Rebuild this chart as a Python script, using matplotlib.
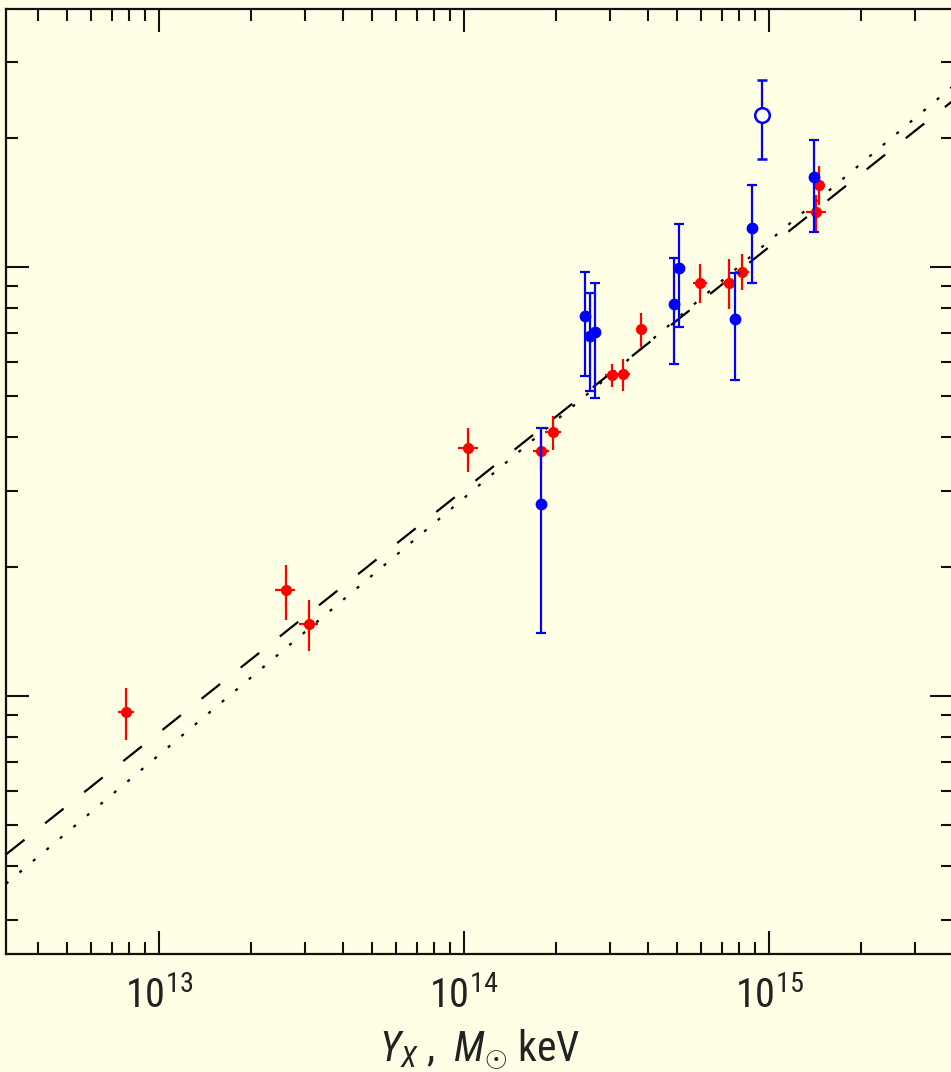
import numpy as np
import matplotlib
matplotlib.use("Agg")
import matplotlib.pyplot as plt
from matplotlib import font_manager
from matplotlib.ticker import LogLocator, NullFormatter, LogFormatterMathtext

names = {f.name for f in font_manager.fontManager.ttflist}
fam = 'Liberation Sans'
for cand in ['Liberation Sans Narrow', 'DejaVu Sans Condensed', 'Roboto Condensed',
             'Open Sans Condensed', 'Noto Sans Condensed']:
    if cand in names:
        fam = cand
        break

plt.rcParams['font.family'] = [fam, 'DejaVu Sans']
plt.rcParams['mathtext.fontset'] = 'custom'
plt.rcParams['mathtext.rm'] = fam
plt.rcParams['mathtext.it'] = fam + ':italic'
plt.rcParams['mathtext.bf'] = fam + ':bold'
plt.rcParams['lines.scale_dashes'] = False

# ---- data (Y_X in Msun keV, M arbitrary mass units) ----
red_x = [7.80e12, 2.60e13, 3.10e13, 1.03e14, 1.79e14, 1.96e14, 3.06e14, 3.33e14,
         3.81e14, 5.94e14, 7.39e14, 8.16e14, 1.43e15, 1.46e15]
red_y = [9.14e13, 1.76e14, 1.47e14, 3.79e14, 3.73e14, 4.13e14, 5.60e14, 5.63e14,
         7.17e14, 9.18e14, 9.18e14, 9.73e14, 1.34e15, 1.55e15]
red_ylo = [7.90e13, 1.50e14, 1.27e14, 3.33e14, 3.36e14, 3.75e14, 5.25e14, 5.14e14,
           6.51e14, 8.25e14, 7.98e14, 8.84e14, 1.20e15, 1.39e15]
red_yhi = [1.04e14, 2.02e14, 1.67e14, 4.21e14, 4.17e14, 4.50e14, 5.94e14, 6.10e14,
           7.81e14, 1.016e15, 1.044e15, 1.072e15, 1.47e15, 1.72e15]
red_xrel = [0.06, 0.075, 0.075, 0.075, 0.06, 0.06, 0.05, 0.05,
            0.0, 0.05, 0.05, 0.05, 0.075, 0.0]

blue_x = [1.79e14, 2.49e14, 2.59e14, 2.69e14, 4.88e14, 5.07e14, 7.74e14, 8.80e14, 1.40e15]
blue_y = [2.80e14, 7.69e14, 6.91e14, 7.06e14, 8.20e14, 9.95e14, 7.57e14, 1.233e15, 1.62e15]
blue_ylo = [1.40e14, 5.57e14, 5.14e14, 4.95e14, 5.94e14, 7.25e14, 5.45e14, 9.18e14, 1.206e15]
blue_yhi = [4.21e14, 9.73e14, 8.70e14, 9.18e14, 1.049e15, 1.26e15, 9.68e14, 1.553e15, 1.977e15]

open_x = [9.49e14]
open_y = [2.26e15]
open_ylo = [1.785e15]
open_yhi = [2.73e15]

# power-law fits: log M = norm + slope * log Y_X
fit_dash = (6.556, 0.566)
fit_dot = (6.075, 0.599)

xlim = (3.15e12, 4.01e15)
ylim = (2.50e13, 3.99e15)
bg = '#ffffe5'

fig = plt.figure(figsize=(9.51, 10.72), dpi=100, facecolor=bg)
ax = fig.add_axes([6/951, 118/1072, 947/951, 945/1072], facecolor=bg)
ax.set_xscale('log')
ax.set_yscale('log')

xx = np.logspace(np.log10(xlim[0]), np.log10(xlim[1]), 200)
ld, = ax.plot(xx, 10**(fit_dash[0] + fit_dash[1]*np.log10(xx)), color='k', lw=1.6)
ld.set_dashes([17, 19])
lt, = ax.plot(xx, 10**(fit_dot[0] + fit_dot[1]*np.log10(xx)), color='k', lw=1.6)
lt.set_dashes([2.2, 10.5])

ry = np.array(red_y); rx = np.array(red_x)
ax.errorbar(rx, ry, yerr=[ry - np.array(red_ylo), np.array(red_yhi) - ry],
            xerr=rx*np.array(red_xrel), fmt='o', color='#ff0000', ms=7,
            elinewidth=1.6, capsize=0, zorder=4)
by = np.array(blue_y)
ax.errorbar(blue_x, by, yerr=[by - np.array(blue_ylo), np.array(blue_yhi) - by],
            fmt='o', color='#0000ff', ms=7.5, elinewidth=1.6, capsize=3.5,
            capthick=1.6, zorder=5)
oy = np.array(open_y)
ax.errorbar(open_x, oy, yerr=[oy - np.array(open_ylo), np.array(open_yhi) - oy],
            fmt='o', color='#0000ff', mfc='white', mec='#0000ff', mew=1.8, ms=10.5,
            elinewidth=1.6, capsize=3.5, capthick=1.6, zorder=5)

ax.set_xlim(*xlim)
ax.set_ylim(*ylim)

ax.xaxis.set_major_locator(LogLocator(base=10, numticks=20))
ax.xaxis.set_minor_locator(LogLocator(base=10, subs=np.arange(2, 10), numticks=20))
ax.xaxis.set_major_formatter(LogFormatterMathtext())
ax.xaxis.set_minor_formatter(NullFormatter())
ax.yaxis.set_major_locator(LogLocator(base=10, numticks=20))
ax.yaxis.set_minor_locator(LogLocator(base=10, subs=np.arange(2, 10), numticks=20))
ax.yaxis.set_major_formatter(NullFormatter())
ax.yaxis.set_minor_formatter(NullFormatter())

ax.tick_params(which='both', direction='in', top=True, right=True, bottom=True, left=True,
               width=1.5, color='#111111', labelleft=False, labelright=False)
ax.tick_params(which='major', length=16.5)
ax.tick_params(which='minor', length=8.5)
ax.tick_params(axis='x', which='major', labelsize=29, pad=16, labelcolor='#222222')
for s in ax.spines.values():
    s.set_linewidth(1.6)
    s.set_color('#111111')

ax.set_xlabel(r'$Y_X$ ,  $M_{\odot}$ keV', fontsize=30, color='#222222', labelpad=8)

fig.savefig('out.png', dpi=100, facecolor=bg)
